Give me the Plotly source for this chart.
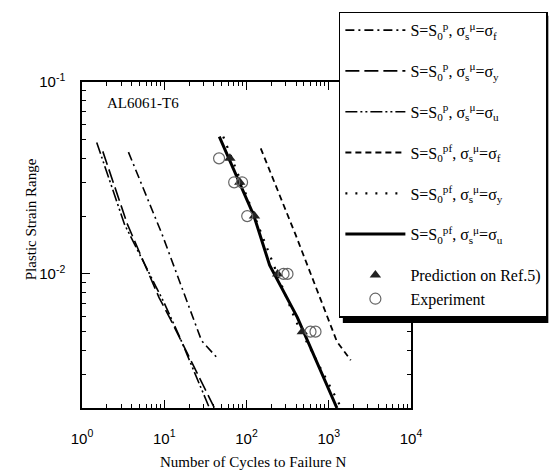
import math
import plotly.graph_objects as go

# Axis tick labels
x_tickvals = [1, 10, 100, 1000, 10000]
x_ticktext = ["10<sup>0</sup>", "10<sup>1</sup>", "10<sup>2</sup>", "10<sup>3</sup>", "10<sup>4</sup>"]
y_tickvals = [0.01, 0.1]
y_ticktext = ["10<sup>-2</sup>", "10<sup>-1</sup>"]

# S = S0^p curves (N, plastic strain range)
p_f_N = [3.67, 9.40, 28.4, 45.5]
p_f_eps = [0.0431, 0.0161, 0.00449, 0.00359]
p_y_N = [1.79, 3.57, 8.65, 12.05, 40.7]
p_y_eps = [0.0435, 0.0181, 0.00752, 0.00574, 0.002]
p_u_N = [1.51, 3.29, 9.93, 15.0, 35.4]
p_u_eps = [0.0484, 0.0181, 0.00709, 0.00482, 0.002]

# S = S0^pf curves
pf_f_N = [149, 393, 1257, 1850]
pf_f_eps = [0.0451, 0.0161, 0.00444, 0.00355]
pf_y_N = [52.2, 145, 393, 1365]
pf_y_eps = [0.0519, 0.0171, 0.00574, 0.00207]
pf_u_N = [46.7, 123, 191, 415, 1257]
pf_u_eps = [0.0519, 0.0201, 0.0111, 0.00594, 0.002]

# Prediction (Ref.5) and experimental points
pred_N = [62.8, 82.8, 125, 239, 477]
pred_eps = [0.04, 0.03, 0.02, 0.01, 0.005]
exp_N = [46.4, 70.8, 88.3, 102, 282, 315, 600, 690]
exp_eps = [0.04, 0.03, 0.03, 0.02, 0.01, 0.01, 0.005, 0.005]


def label(s0, sig):
    return (f"S=S<sub>0</sub><sup>{s0}</sup>, "
            f"σ<sub>s</sub><sup>μ</sup>=σ<sub>{sig}</sub>")


serif = "Liberation Serif"
sans = "Liberation Sans"

W, H = 560, 470
L, R, T, B = 82, 145, 74, 62
PW, PH = W - L - R, H - T - B


def px(xp):
    return (xp - L) / PW


def py(yp):
    return 1 - (yp - T) / PH


fig = go.Figure()

curves = [
    (p_f_N, p_f_eps, label("p", "f"), "9px,4px,2px,4px", 1.6, "p_f"),
    (p_y_N, p_y_eps, label("p", "y"), "14px,5px", 1.6, "p_y"),
    (p_u_N, p_u_eps, label("p", "u"), "12px,3px,2px,3px,2px,3px", 1.6, "p_u"),
    (pf_f_N, pf_f_eps, label("pf", "f"), "6px,4px", 1.8, "pf_f"),
    (pf_y_N, pf_y_eps, label("pf", "y"), "2px,8px", 2.2, "pf_y"),
    (pf_u_N, pf_u_eps, label("pf", "u"), "solid", 3, "pf_u"),
]
for xs, ys, name, dash, w, grp in curves:
    fig.add_trace(go.Scatter(
        x=xs, y=ys, mode="lines", name=name, legendgroup=grp,
        line=dict(color="black", width=w, dash=dash),
    ))

fig.add_trace(go.Scatter(
    x=pred_N, y=pred_eps, mode="markers", name="Prediction on Ref.5)",
    legendgroup="pts",
    marker=dict(symbol="triangle-up", size=10, color="#222222",
                line=dict(width=0)),
))
fig.add_trace(go.Scatter(
    x=exp_N, y=exp_eps, mode="markers", name="Experiment",
    legendgroup="pts",
    marker=dict(symbol="circle-open", size=11, color="#666666",
                line=dict(width=1.2)),
))

x_minor = [m * 10 ** d for d in range(0, 4) for m in range(2, 10)]
y_minor = [m * 10 ** d for d in (-3, -2) for m in range(2, 10)]

fig.add_annotation(
    x=px(105), y=py(96), xref="paper", yref="paper",
    xanchor="left", yanchor="middle",
    text="AL6061-T6", showarrow=False,
    font=dict(family=serif, size=15, color="black"),
)
fig.add_annotation(
    x=px(30), y=py(215), xref="paper", yref="paper",
    xanchor="center", yanchor="middle", textangle=-90,
    text="Plastic Strain Range", showarrow=False,
    font=dict(family=serif, size=15, color="black"),
)
fig.add_annotation(
    x=px(255), y=py(463), xref="paper", yref="paper",
    xanchor="center", yanchor="middle",
    text="Number of Cycles to Failure N", showarrow=False,
    font=dict(family=serif, size=15, color="black"),
)

# drop shadow behind the legend box
fig.add_shape(
    type="rect", xref="paper", yref="paper", layer="above",
    x0=px(346), x1=px(554), y0=py(321), y1=py(6),
    fillcolor="black", line=dict(width=0),
)

fig.update_layout(
    width=W, height=H,
    margin=dict(l=L, r=R, t=T, b=B),
    paper_bgcolor="white", plot_bgcolor="white",
    showlegend=True,
    legend=dict(
        x=px(342), y=py(2), xanchor="left", yanchor="top",
        bgcolor="white", bordercolor="black", borderwidth=1.5,
        font=dict(family=serif, size=16, color="black"),
        tracegroupgap=17, itemwidth=60, maxheight=460,
    ),
    xaxis=dict(
        type="log", range=[0, 4], showgrid=False, zeroline=False,
        showline=True, linecolor="black", linewidth=1.5, mirror="ticks",
        ticks="inside", ticklen=8, tickwidth=1, tickcolor="black",
        tickmode="array", tickvals=x_tickvals, ticktext=x_ticktext,
        tickfont=dict(family=sans, size=15, color="black"),
        ticklabelstandoff=16,
        minor=dict(ticks="inside", ticklen=4, tickcolor="black",
                   tickmode="array", tickvals=x_minor, showgrid=False),
    ),
    yaxis=dict(
        type="log", range=[math.log10(0.002), -1], showgrid=False,
        zeroline=False,
        showline=True, linecolor="black", linewidth=1.5, mirror="ticks",
        ticks="inside", ticklen=8, tickwidth=1, tickcolor="black",
        tickmode="array", tickvals=y_tickvals, ticktext=y_ticktext,
        tickfont=dict(family=sans, size=15, color="black"),
        ticklabelstandoff=12,
        minor=dict(ticks="inside", ticklen=4, tickcolor="black",
                   tickmode="array", tickvals=y_minor, showgrid=False),
    ),
)

fig.write_html("out.html")
